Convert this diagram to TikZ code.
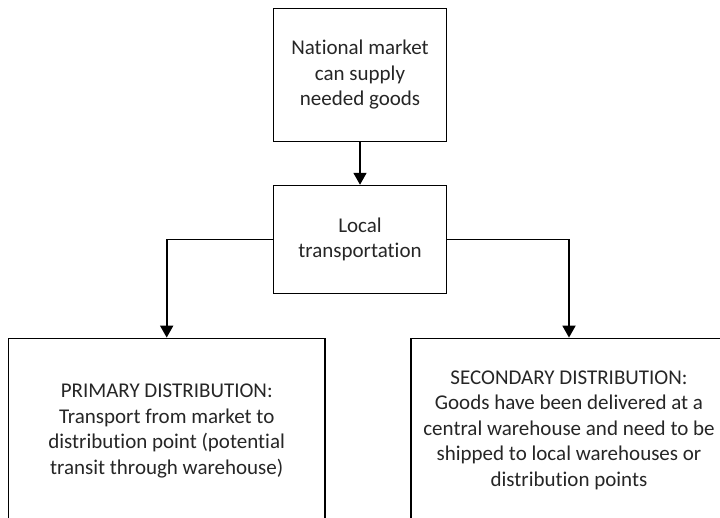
\documentclass[tikz,border=0pt]{standalone}
\usepackage{fontspec}
\setmainfont{Carlito}[Ligatures=NoCommon]
\usetikzlibrary{arrows.meta}
\begin{document}
\begin{tikzpicture}[x=1pt,y=-1pt,
  box/.style={draw=black,line width=1.5pt,rectangle,align=center,inner sep=0pt,
    font=\fontsize{21}{25.5}\selectfont,text=black!85},
  conn/.style={draw=black,line width=1.8pt,-{Triangle[width=13pt,length=12pt]}}]
\useasboundingbox (0,0) rectangle (720,517);
\clip (0,0) rectangle (720,517);
\fill[white] (0,0) rectangle (720,517);
\node[box,minimum width=173pt,minimum height=133pt] (top) at (360,75)
  {National market\\can supply\\needed goods};
\node[box,minimum width=173pt,minimum height=108pt] (mid) at (360,239.5)
  {Local\\transportation};
\node[box,minimum width=316.7pt,minimum height=185.7pt] (prim) at (166.7,431.2)
  {PRIMARY DISTRIBUTION:\\Transport from market to\\distribution point (potential\\transit through warehouse)};
\node[box,minimum width=316pt,minimum height=183.7pt] (sec) at (569,430.2)
  {SECONDARY DISTRIBUTION:\\Goods have been delivered at a\\central warehouse and need to be\\shipped to local warehouses or\\distribution points};
\draw[conn] (top) -- (mid);
\draw[conn] (mid.west) -| (prim.north);
\draw[conn] (mid.east) -| (sec.north);
\end{tikzpicture}
\end{document}
